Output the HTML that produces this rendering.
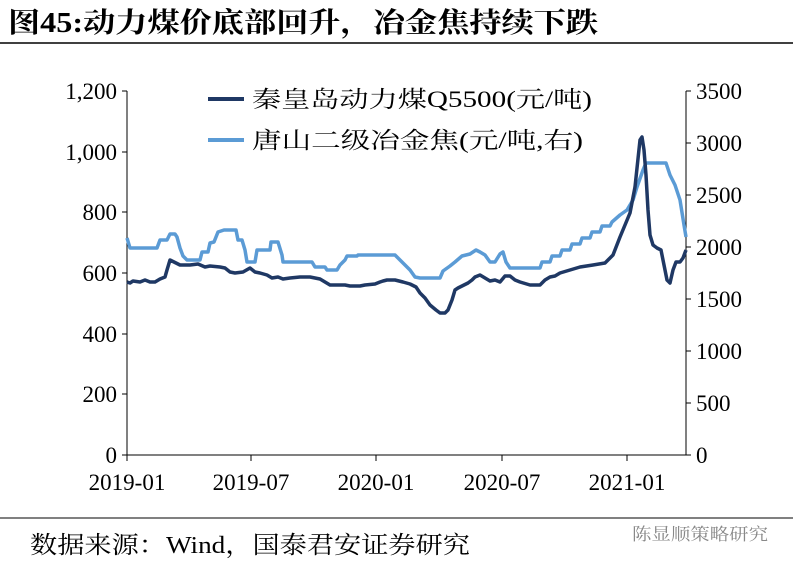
<!DOCTYPE html>
<html><head><meta charset="utf-8"><style>
body{margin:0;background:#fff;width:793px;height:568px;overflow:hidden}
svg text{font-family:"Liberation Serif","Noto Serif CJK SC",serif}
</style></head><body>
<svg width="793" height="568" viewBox="0 0 793 568">
<text x="8" y="32" font-size="28" font-weight="bold" textLength="590" lengthAdjust="spacingAndGlyphs">图45:动力煤价底部回升，冶金焦持续下跌</text>
<line x1="0" y1="43" x2="793" y2="43" stroke="#000" stroke-width="1.5"/>
<line x1="0" y1="518" x2="793" y2="518" stroke="#000" stroke-width="1"/>
<text x="30" y="553" font-size="24" textLength="440" lengthAdjust="spacingAndGlyphs">数据来源：Wind，国泰君安证券研究</text>
<text x="632" y="540" font-size="17" fill="#888" textLength="136" lengthAdjust="spacingAndGlyphs" font-family="Liberation Sans,Noto Sans CJK SC,sans-serif">陈显顺策略研究</text>
<g stroke="#000" stroke-width="1" fill="none">
<line x1="127" y1="91" x2="127" y2="455"/>
<line x1="686" y1="91" x2="686" y2="455"/>
<line x1="127" y1="455" x2="686" y2="455"/>
<line x1="122" y1="91" x2="127" y2="91"/><line x1="122" y1="152" x2="127" y2="152"/><line x1="122" y1="212" x2="127" y2="212"/><line x1="122" y1="273" x2="127" y2="273"/><line x1="122" y1="334" x2="127" y2="334"/><line x1="122" y1="394" x2="127" y2="394"/><line x1="122" y1="455" x2="127" y2="455"/>
<line x1="686" y1="91" x2="691" y2="91"/><line x1="686" y1="143" x2="691" y2="143"/><line x1="686" y1="195" x2="691" y2="195"/><line x1="686" y1="247" x2="691" y2="247"/><line x1="686" y1="299" x2="691" y2="299"/><line x1="686" y1="351" x2="691" y2="351"/><line x1="686" y1="403" x2="691" y2="403"/><line x1="686" y1="455" x2="691" y2="455"/>
<line x1="127" y1="455" x2="127" y2="461"/><line x1="251" y1="455" x2="251" y2="461"/><line x1="376" y1="455" x2="376" y2="461"/><line x1="502" y1="455" x2="502" y2="461"/><line x1="627" y1="455" x2="627" y2="461"/>
</g>
<g font-size="23" text-anchor="end">
<text x="117" y="99">1,200</text><text x="117" y="160">1,000</text><text x="117" y="220">800</text><text x="117" y="281">600</text><text x="117" y="342">400</text><text x="117" y="402">200</text><text x="117" y="463">0</text>
</g>
<g font-size="23" text-anchor="start">
<text x="696" y="99">3500</text><text x="696" y="151">3000</text><text x="696" y="203">2500</text><text x="696" y="255">2000</text><text x="696" y="307">1500</text><text x="696" y="359">1000</text><text x="696" y="411">500</text><text x="696" y="463">0</text>
</g>
<g font-size="23" text-anchor="middle">
<text x="127" y="490">2019-01</text><text x="251" y="490">2019-07</text><text x="376" y="490">2020-01</text><text x="502" y="490">2020-07</text><text x="627" y="490">2021-01</text>
</g>
<line x1="208" y1="99" x2="244" y2="99" stroke="#1f3864" stroke-width="4"/>
<text x="252" y="107" font-size="23" textLength="340" lengthAdjust="spacingAndGlyphs">秦皇岛动力煤Q5500(元/吨)</text>
<line x1="208" y1="140" x2="244" y2="140" stroke="#5b9bd5" stroke-width="4"/>
<text x="252" y="148" font-size="23" textLength="331" lengthAdjust="spacingAndGlyphs">唐山二级冶金焦(元/吨,右)</text>
<polyline fill="none" stroke="#5b9bd5" stroke-width="3.5" stroke-linejoin="round" points="127,238 130,248 157,248 160,240 167,240 170,234 175,234 177,237 180,248 183,256 187,260 200,260 202,252 208,252 210,243 214,242 218,232 224,230 236,230 238,240 242,240 245,250 247,262 255,262 257,250 270,250 271,242 278,242 282,255 283,262 312,262 315,267 325,267 327,270 337,270 340,265 345,260 347,256 357,256 358,255 395,255 400,260 405,265 410,270 415,277 420,278 440,278 443,271 450,266 455,262 462,256 470,254 476,250 480,252 485,255 490,262 495,262 500,254 503,252 506,262 510,268 540,268 542,262 550,262 552,256 560,256 562,250 570,250 572,244 580,244 582,238 590,238 592,232 600,232 602,226 610,226 612,222 620,215 627,210 633,200 637,187 643,170 646,163 666,163 670,175 675,185 680,200 684,225 686,237"/>
<polyline fill="none" stroke="#1f3864" stroke-width="3.5" stroke-linejoin="round" points="127,282 130,283 133,281 140,282 145,280 150,282 155,282 160,279 165,277 167,270 170,260 174,262 180,265 190,265 198,264 205,267 210,266 220,267 225,268 230,272 235,273 243,272 250,268 255,272 260,273 267,275 272,278 278,277 283,279 290,278 300,277 310,277 320,279 325,282 330,285 345,285 350,286 360,286 365,285 375,284 380,282 383,281 387,280 395,280 403,282 410,284 416,287 420,293 425,298 430,305 436,310 440,313 445,313 448,310 452,300 455,290 458,288 462,286 468,283 472,280 475,277 480,275 485,278 490,281 495,280 500,282 505,276 510,276 515,280 520,282 530,285 540,285 545,280 550,277 555,276 560,273 570,270 580,267 593,265 605,263 613,255 620,237 630,213 635,187 640,140 642,137 644,150 646,175 648,210 650,235 653,245 657,248 661,250 664,265 667,280 670,283 673,270 676,262 680,262 683,258 686,250"/>
</svg>
</body></html>
